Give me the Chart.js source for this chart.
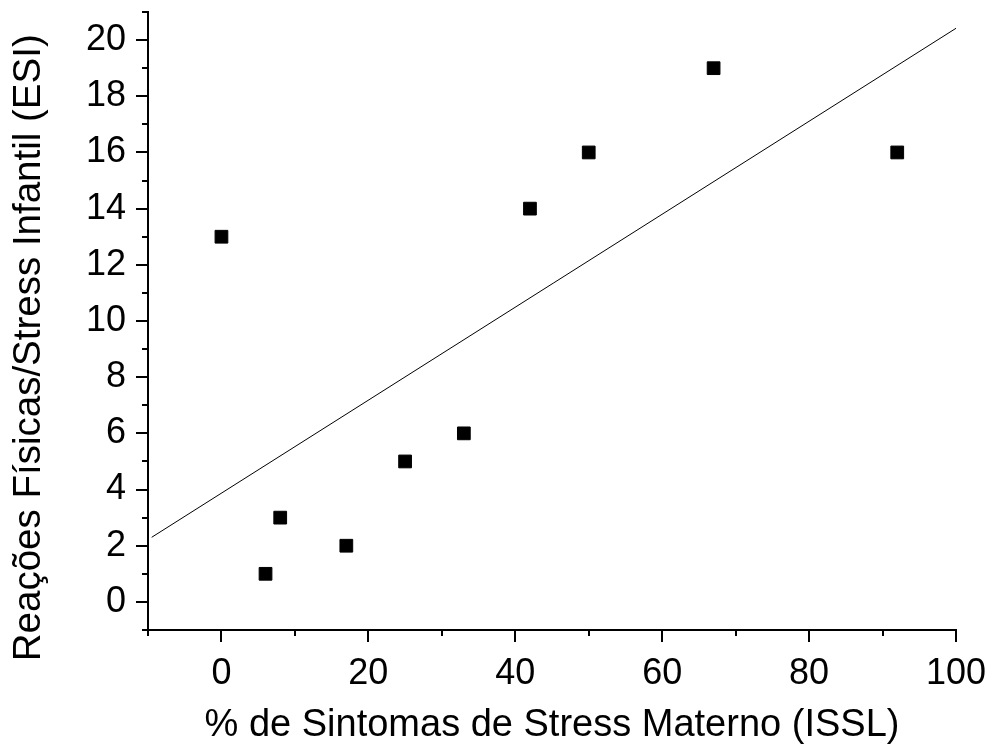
<!DOCTYPE html>
<html>
<head>
<meta charset="utf-8">
<script src="https://cdn.jsdelivr.net/npm/chart.js@4/dist/chart.umd.min.js"></script>
<style>
  body { margin: 0; background: #fff; }
  canvas { display: block; }
</style>
</head>
<body>
<canvas id="chart" width="992" height="748"></canvas>
<script>
// ISSL (%) vs ESI score per child
const stressMaterno = [0, 6, 8, 17, 25, 33, 42, 50, 67, 92]
const stressInfantil = [13, 1, 3, 2, 5, 6, 14, 16, 19, 16]

// linear fit, endpoints as drawn
const fitX = [-9.5, 100]
const fitY = [2.3, 20.42]

const xTickLabels = [0, 20, 40, 60, 80, 100]
const yTickLabels = [0, 2, 4, 6, 8, 10, 12, 14, 16, 18, 20]

const fonte = "'Liberation Sans', Arial, sans-serif"

const pontos = stressMaterno.map((x, i) => ({ x: x, y: stressInfantil[i] }))
const reta = fitX.map((x, i) => ({ x: x, y: fitY[i] }))

// outward tick marks, long on labelled values, short in between
const marcasEixo = {
    id: 'marcasEixo',
    afterDraw(chart) {
        const ctx = chart.ctx
        const xs = chart.scales.x
        const ys = chart.scales.y
        ctx.save()
        ctx.strokeStyle = '#000'
        ctx.lineWidth = 2
        xs.ticks.forEach(t => {
            const px = Math.round(xs.getPixelForValue(t.value))
            const len = xTickLabels.includes(t.value) ? 12 : 6
            ctx.beginPath()
            ctx.moveTo(px, xs.top)
            ctx.lineTo(px, xs.top + len)
            ctx.stroke()
        })
        ys.ticks.forEach(t => {
            const py = Math.round(ys.getPixelForValue(t.value))
            const len = yTickLabels.includes(t.value) ? 12 : 6
            ctx.beginPath()
            ctx.moveTo(ys.right, py)
            ctx.lineTo(ys.right - len, py)
            ctx.stroke()
        })
        ctx.restore()
    }
}

new Chart(document.getElementById('chart'), {
    type: 'scatter',
    data: {
        datasets: [
            {
                data: pontos,
                pointStyle: 'rect',
                pointRadius: 9,
                pointHoverRadius: 9,
                backgroundColor: '#000',
                borderColor: '#000',
                borderWidth: 1
            },
            {
                type: 'line',
                data: reta,
                showLine: true,
                pointRadius: 0,
                borderColor: '#000',
                borderWidth: 1,
                fill: false
            }
        ]
    },
    options: {
        responsive: false,
        animation: false,
        devicePixelRatio: 1,
        layout: { padding: { top: 12, right: 36, left: 0, bottom: 0 } },
        plugins: {
            legend: { display: false },
            tooltip: { enabled: false }
        },
        scales: {
            x: {
                type: 'linear',
                min: -10,
                max: 100,
                afterFit(scale) {
                    scale.height = 118
                    scale.paddingLeft = 0
                    scale.paddingRight = 0
                },
                grid: { display: false, drawTicks: false },
                border: { display: true, color: '#000', width: 2 },
                ticks: {
                    stepSize: 10,
                    autoSkip: false,
                    maxRotation: 0,
                    padding: 22,
                    color: '#000',
                    font: { family: fonte, size: 36 },
                    callback: v => xTickLabels.includes(v) ? String(v) : ''
                },
                title: {
                    display: true,
                    text: '% de Sintomas de Stress Materno (ISSL)',
                    color: '#000',
                    font: { family: fonte, size: 38 },
                    padding: { top: 0, bottom: 0 }
                }
            },
            y: {
                type: 'linear',
                min: -1,
                max: 21,
                afterFit(scale) {
                    scale.width = 148
                    scale.paddingTop = 0
                    scale.paddingBottom = 0
                },
                grid: { display: false, drawTicks: false },
                border: { display: true, color: '#000', width: 2 },
                ticks: {
                    stepSize: 1,
                    autoSkip: false,
                    padding: 22,
                    color: '#000',
                    font: { family: fonte, size: 36 },
                    callback: v => yTickLabels.includes(v) ? String(v) : ''
                },
                title: {
                    display: true,
                    // trailing spaces push the text a little below the axis centre
                    text: 'Reações Físicas/Stress Infantil (ESI)     ',
                    color: '#000',
                    font: { family: fonte, size: 38.5 },
                    padding: { top: 6, bottom: 0 }
                }
            }
        }
    },
    plugins: [marcasEixo]
})
</script>
</body>
</html>
